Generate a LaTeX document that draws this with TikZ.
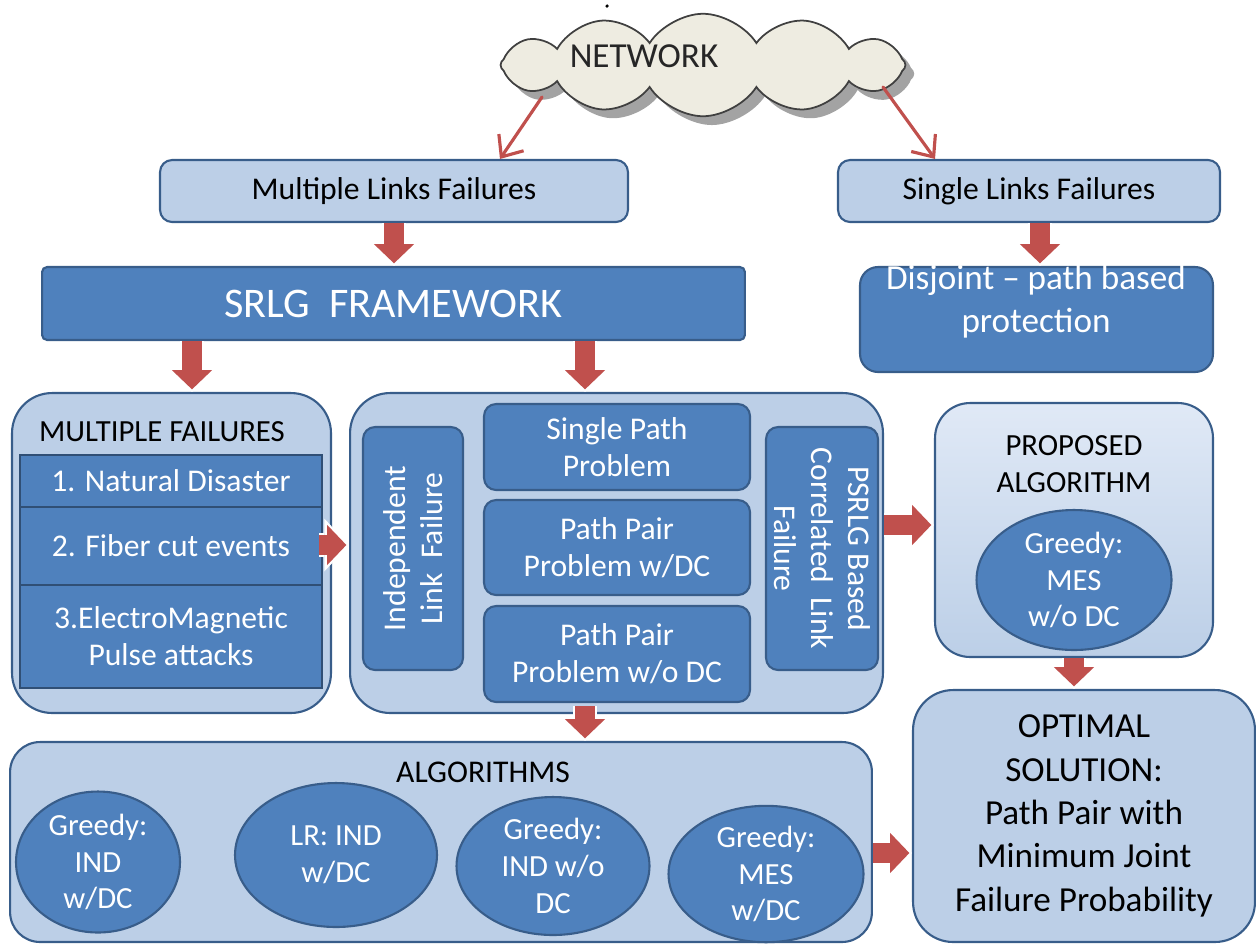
\documentclass[tikz,border=0pt]{standalone}
\usepackage{fontspec}
\setmainfont{Carlito}
\usetikzlibrary{arrows.meta, shapes.geometric, shapes.symbols, shadows}
\definecolor{light}{RGB}{188,207,231}
\definecolor{lighttop}{RGB}{224,233,246}
\definecolor{dark}{RGB}{79,129,189}
\definecolor{edge}{RGB}{56,93,138}
\definecolor{arrowred}{RGB}{192,80,77}
\definecolor{cloudfill}{RGB}{238,236,225}
\definecolor{cloudedge}{RGB}{64,64,64}
\begin{document}
\begin{tikzpicture}[x=0.02cm, y=-0.02cm, font=\fontsize{18}{21}\selectfont,
  lbox/.style={draw=edge, line width=1.2pt, fill=light, rounded corners=#1, align=center}, lbox/.default=0.24cm,
  dbox/.style={draw=edge, line width=1.2pt, fill=dark, text=white, rounded corners=#1, align=center}, dbox/.default=0.24cm,
  row/.style={draw=edge!85!black, line width=1.2pt, fill=dark, text=white, align=center, minimum width=6.04cm},
  oval/.style={ellipse, draw=edge, line width=1.2pt, fill=dark, text=white, align=center, inner sep=0pt, font=\fontsize{17.5}{21}\selectfont},
  thinarrow/.style={draw=arrowred, line width=1.8pt, line cap=round, -{Straight Barb[length=10pt, width=17pt]}},
  blockarrow/.style={draw=arrowred, line width=11pt, shorten >=1.5pt, -{Triangle[length=11pt, width=23pt, line width=0pt]},
    preaction={draw=white, line width=14pt, shorten >=0pt, -{Triangle[length=14pt, width=30pt, line width=0pt]}}}]
\useasboundingbox (0,0) rectangle (1256,944);
\fill (607,6) circle (1pt);
\node[cloud, cloud puffs=12, cloud puff arc=115, aspect=4, minimum width=8.1cm, minimum height=2.05cm, draw=cloudedge, fill=cloudfill, line width=1pt, drop shadow={shadow xshift=5pt, shadow yshift=-5pt, fill=black!60, opacity=0.6}] (net) at (703,65) {};
\node[font=\fontsize{20}{24}\selectfont, text=black!85] (nettxt) at (644,56) {NETWORK};
\node[lbox, minimum width=9.36cm, minimum height=1.24cm] (mlf) at (394,191) {Multiple Links Failures};
\node[lbox, minimum width=7.64cm, minimum height=1.24cm] (slf) at (1029,191) {Single Links Failures};
\node[dbox=0.1cm, minimum width=14.06cm, minimum height=1.46cm, font=\fontsize{24}{28}\selectfont] (srlg) at (393.5,303.5) {SRLG\ \ FRAMEWORK};
\node[dbox=0.36cm, minimum width=7.06cm, minimum height=2.1cm] (dis) at (1036.5,319.5) {};
\node[text=white, align=center, font=\fontsize{20}{24.4}\selectfont] (distxt) at (1036,302) {Disjoint -- path based\\protection};
\node[lbox=0.8cm, minimum width=6.38cm, minimum height=6.4cm] (mf) at (171.5,553) {};
\node[font=\fontsize{17.5}{21}\selectfont] (mftitle) at (162,432) {MULTIPLE FAILURES};
\node[row, minimum height=1.04cm] (mf1) at (171,481) {1. Natural Disaster};
\node[row, minimum height=1.56cm] (mf2) at (171,546) {2. Fiber cut events};
\node[row, minimum height=2.06cm] (mf3) at (171,636.5) {3.ElectroMagnetic\\Pulse attacks};
\node[lbox=0.8cm, minimum width=10.66cm, minimum height=6.4cm] (mid) at (616.5,553) {};
\node[dbox, rotate=90, minimum width=4.86cm, minimum height=2cm] (ind) at (413,548.5) {Independent\\Link\ \ Failure};
\node[dbox, minimum width=5.32cm, minimum height=1.72cm] (sp) at (617,447) {Single Path\\Problem};
\node[dbox, minimum width=5.32cm, minimum height=1.9cm] (ppd) at (617,547.5) {Path Pair\\Problem w/DC};
\node[dbox, minimum width=5.32cm, minimum height=1.92cm] (ppo) at (617,654) {Path Pair\\Problem w/o DC};
\node[dbox, rotate=-90, minimum width=4.86cm, minimum height=2.24cm] (psr) at (822,548.5) {PSRLG Based\\Correlated\ \ Link\\Failure};
\node[lbox=0.6cm, minimum width=17.24cm, minimum height=4cm] (alg) at (441,842) {};
\node (algtitle) at (483,772) {ALGORITHMS};
\node[oval, minimum width=3.28cm, minimum height=2.82cm] (g1) at (98,862) {Greedy:\\IND\\w/DC};
\node[oval, minimum width=4.04cm, minimum height=2.88cm] (lr) at (336,855) {LR: IND\\w/DC};
\node[oval, minimum width=3.86cm, minimum height=2.76cm] (g2) at (553,866) {Greedy:\\IND w/o\\DC};
\node[oval, minimum width=3.9cm, minimum height=2.64cm] (g3) at (766,874) {Greedy:\\MES\\w/DC};
\node[lbox=0.7cm, top color=lighttop, bottom color=light, minimum width=5.56cm, minimum height=5.08cm] (prop) at (1074,530) {};
\node[align=center, font=\fontsize{17.5}{21}\selectfont] (proptitle) at (1074,464) {PROPOSED\\ALGORITHM};
\node[oval, minimum width=3.9cm, minimum height=2.8cm] (mes) at (1074,580) {Greedy:\\MES\\w/o DC};
\node[lbox=0.8cm, minimum width=6.84cm, minimum height=5.04cm, font=\fontsize{20}{24.7}\selectfont] (opt) at (1084,816) {OPTIMAL\\SOLUTION:\\Path Pair with\\Minimum Joint\\Failure Probability};
\draw[thinarrow] ([xshift=-3.22cm, yshift=-0.64cm]net.center) -- ([xshift=2.12cm]mlf.north);
\draw[thinarrow] ([xshift=3.6cm, yshift=-0.44cm]net.center) -- ([xshift=-1.88cm]slf.north);
\coordinate (a2) at ([xshift=0.22cm]slf.south);
\coordinate (a3) at ([xshift=0.41cm]mf.north);
\coordinate (a4) at ([xshift=-0.63cm]mid.north);
\coordinate (a5) at ([xshift=-0.26cm, yshift=0.16cm]mf.east);
\coordinate (a6) at ([yshift=0.56cm]mid.east);
\coordinate (a7) at ([xshift=-0.63cm, yshift=0.16cm]mid.south);
\coordinate (a9) at ([yshift=-0.22cm]alg.east);
\draw[blockarrow] (mlf.south) -- (mlf.south |- srlg.north);
\draw[blockarrow] (a2) -- (a2 |- dis.north);
\draw[blockarrow] (a3 |- srlg.south) -- (a3);
\draw[blockarrow] (a4 |- srlg.south) -- (a4);
\draw[blockarrow] (a5) -- (a5 -| mid.west);
\draw[blockarrow] (a6) -- (a6 -| prop.west);
\draw[blockarrow] (a7) -- (a7 |- alg.north);
\draw[blockarrow] (prop.south) -- (prop.south |- opt.north);
\draw[blockarrow] (a9) -- (a9 -| opt.west);
\end{tikzpicture}
\end{document}
